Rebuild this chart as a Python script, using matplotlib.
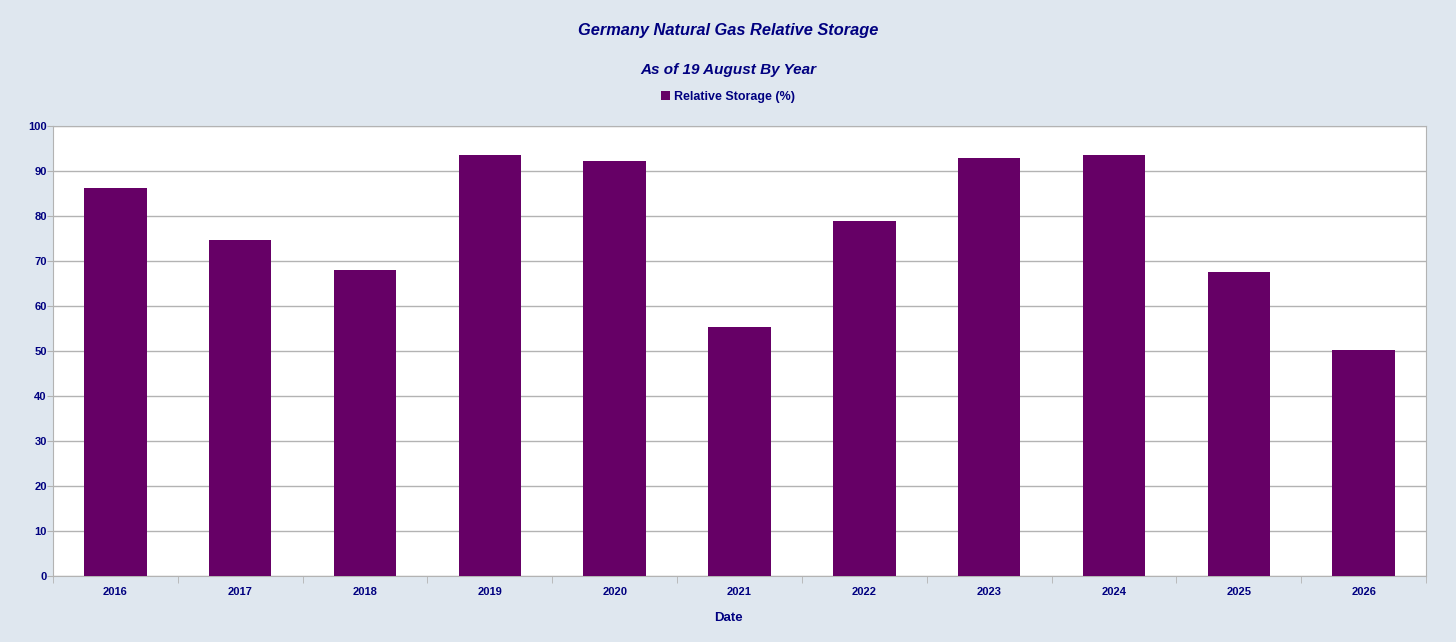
import matplotlib.pyplot as plt
import numpy as np

years = ['2016', '2017', '2018', '2019', '2020', '2021', '2022', '2023', '2024', '2025', '2026']
storage = [86.2, 74.7, 68.0, 93.6, 92.2, 55.3, 78.9, 92.9, 93.6, 67.6, 50.2]

navy = '#000080'
bar_color = '#660066'
bg = '#dfe7ef'
grid = '#b3b3b3'

plt.rcParams['font.family'] = ['Liberation Sans', 'DejaVu Sans']

fig = plt.figure(figsize=(14.56, 6.42), dpi=100, facecolor=bg)
ax = fig.add_axes([53 / 1456, 1 - 576 / 642, 1373 / 1456, 450 / 642])
ax.set_facecolor('white')

x = np.arange(len(years))
ax.bar(x, storage, width=0.5, color=bar_color, zorder=3, label='Relative Storage (%)')

ax.set_xlim(-0.5, len(years) - 0.5)
ax.set_ylim(0, 100)
ax.set_yticks(range(0, 101, 10))
ax.yaxis.grid(True, color=grid, linewidth=1, zorder=0)

ax.set_xticks(x)
ax.set_xticklabels(years)
ax.set_xticks(np.arange(-0.5, len(years)), minor=True)
ax.tick_params(axis='x', which='major', length=0, pad=8)
ax.tick_params(axis='x', which='minor', length=5, color=grid, direction='out')
ax.tick_params(axis='y', length=4, color=grid, pad=0.5)
for lab in ax.get_xticklabels() + ax.get_yticklabels():
    lab.set_color(navy)
    lab.set_fontsize(8)
    lab.set_fontweight('bold')

for s in ax.spines.values():
    s.set_color(grid)

fig.text(0.5, 1 - 618 / 642, 'Date', ha='center', va='center',
         color=navy, fontsize=9.5, fontweight='bold')

fig.text(0.5, 1 - 30 / 642, 'Germany Natural Gas Relative Storage', ha='center', va='center',
         color=navy, fontsize=11.8, fontweight='bold', style='italic')
fig.text(0.5, 1 - 70 / 642, 'As of 19 August By Year', ha='center', va='center',
         color=navy, fontsize=11, fontweight='bold', style='italic')

leg = fig.legend(loc='center', bbox_to_anchor=(0.5, 1 - 97 / 642), frameon=False,
                 handlelength=0.7, handleheight=0.7, handletextpad=0.3,
                 prop={'size': 9, 'weight': 'bold'})
for t in leg.get_texts():
    t.set_color(navy)

fig.savefig('out.png', dpi=100, facecolor=bg)
